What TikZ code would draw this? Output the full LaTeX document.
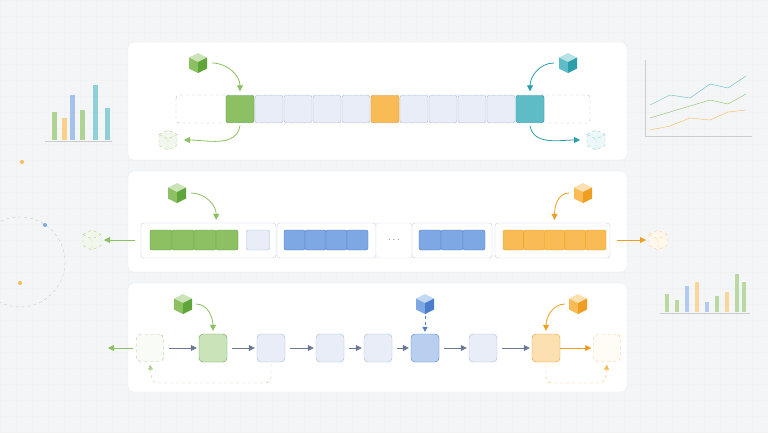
\documentclass[tikz,border=0pt]{standalone}
\usepackage{tikz}
\usetikzlibrary{positioning,calc,arrows.meta}
\definecolor{cgreen}{HTML}{8CC063}
\definecolor{cgreenD}{HTML}{5FA63A}
\definecolor{cteal}{HTML}{5DBCC6}
\definecolor{ctealD}{HTML}{2E9DAA}
\definecolor{corange}{HTML}{F8BB55}
\definecolor{corangeD}{HTML}{EE9F22}
\definecolor{cblue}{HTML}{7EA8E4}
\definecolor{cblueD}{HTML}{4A7DCB}
\definecolor{cpale}{HTML}{E8EDF8}
\definecolor{cpaleD}{HTML}{A9B8D6}
\definecolor{carrow}{HTML}{6A7A92}
\definecolor{cbg}{HTML}{F4F5F7}
\tikzset{
  panel/.style={fill=white,draw=black!8,rounded corners=6pt},
  cell/.style={draw=#1D,fill=#1,rounded corners=2pt,minimum width=28pt,minimum height=27pt,inner sep=0pt},
  pcell/.style={draw=cpaleD,fill=cpale,rounded corners=2pt,minimum width=28pt,minimum height=27pt,inner sep=0pt},
  scell/.style={draw=#1D,fill=#1,rounded corners=2pt,minimum width=20pt,minimum height=20pt,inner sep=0pt},
  group/.style={draw=cpaleD!70,fill=white,rounded corners=3pt},
  lnode/.style={draw=#1D,fill=#1!45!white,rounded corners=4pt,minimum size=28pt,inner sep=0pt},
  ghostnode/.style={draw=#1D!60,dashed,fill=#1!6!white,rounded corners=4pt,minimum size=27pt,inner sep=0pt},
  flow/.style={-{Triangle[length=6pt,width=6pt]},thick,color=#1},
  cube/.pic={
    \fill[#1!45!white] (0,-10)--(9,-5.5)--(0,-1)--(-9,-5.5)--cycle;
    \fill[#1] (-9,-5.5)--(0,-1)--(0,10)--(-9,5.5)--cycle;
    \fill[#1D] (9,-5.5)--(0,-1)--(0,10)--(9,5.5)--cycle;
  },
  ghost/.pic={
    \draw[#1!75,dashed,fill=#1!12!white] (-9,-5.5)--(0,-10)--(9,-5.5)--(9,5.5)--(0,10)--(-9,5.5)--cycle;
    \draw[#1!75,dashed] (-9,-5.5)--(0,-1)--(9,-5.5) (0,-1)--(0,10);
  }
}
\begin{document}
\begin{tikzpicture}[x=1pt,y=-1pt]
\fill[cbg] (0,0) rectangle (768,432);
\useasboundingbox (0,0) rectangle (768,432);
% background decoration
\foreach \x in {0,16,...,768} \draw[black!5] (\x,0) -- (\x,432);
\foreach \y in {0,16,...,432} \draw[black!5] (0,\y) -- (768,\y);
\foreach \x/\h/\c in {52/28/cgreen,62/22/corange,70/45/cblue,80/30/cgreen,93/55/cteal,105/32/cteal}
  \fill[\c!70] (\x,140) rectangle +(5,-\h);
\draw[black!20] (45,141) -- (112,141);
\draw[cteal,thin] (650,105) -- (670,95) -- (690,98) -- (710,84) -- (728,88) -- (746,76);
\draw[cgreen,thin] (650,118) -- (670,112) -- (690,106) -- (710,100) -- (728,104) -- (746,94);
\draw[corange,thin] (650,130) -- (670,126) -- (690,118) -- (710,120) -- (728,112) -- (746,110);
\draw[black!20] (645,60) -- (645,136) -- (752,136);
\foreach \x/\h/\c in {665/18/cgreen,675/12/cgreen,685/26/cblue,695/30/corange,705/10/cblue,715/16/cgreen,725/20/corange,735/38/cgreen,742/30/cgreen}
  \fill[\c!60] (\x,312) rectangle +(4,-\h);
\draw[black!20] (660,313) -- (750,313);
\draw[black!20,dashed] (20,262) circle (45);
\fill[cblue] (45,225) circle (2);
\fill[corange] (22,162) circle (2);
\fill[corange] (20,283) circle (2);

% panel 1: array with two ends
\draw[panel] (128,42) rectangle (627,160);
\draw[cpaleD,dashed,rounded corners=3pt] (176,95) rectangle (590,123);
\foreach \i in {1,...,11}
  \node[pcell] (c\i) at (240+\i*29-29,109) {};
\node[cell=cgreen] at (c1) {};
\node[cell=corange] at (c6) {};
\node[cell=cteal] at (c11) {};
\path (198,63) pic {cube=cgreen} coordinate (ga);
\path (568,63) pic {cube=cteal} coordinate (ta);
\path (168,140) pic {ghost=cgreen} coordinate (gb);
\path (596,140) pic {ghost=cteal} coordinate (tb);
\draw[flow=cgreen] ([xshift=14pt]ga) to[out=0,in=90] ([yshift=4pt]c1.north);
\draw[flow=cgreen] ([yshift=-3pt]c1.south) to[out=-100,in=0] ([xshift=16pt]gb);
\draw[flow=ctealD] ([xshift=-14pt]ta) to[out=180,in=90] ([yshift=4pt]c11.north);
\draw[flow=ctealD] ([yshift=-3pt]c11.south) to[out=-80,in=180] ([xshift=-16pt]tb);

% panel 2: deque of blocks
\draw[panel] (128,171) rectangle (627,272);
\draw[group] (141,223) rectangle (276,258);
\draw[group] (277,223) rectangle (376,258);
\draw[group,draw=cpaleD!40] (376,223) rectangle (412,258);
\draw[group] (412,223) rectangle (492,258);
\draw[group] (495,223) rectangle (610,258);
\foreach \i in {1,...,4}
  \node[scell=cgreen,minimum width=22pt] (g\i) at (150+\i*22-11,240) {};
\node[scell=cpale,draw=cpaleD,minimum width=23pt] (w1) at (258,240) {};
\foreach \i in {1,...,4}
  \node[scell=cblue,minimum width=21pt] (b\i) at (284+\i*21-10.5,240) {};
\node[text=carrow] (dots) at (394,240) {$\cdots$};
\foreach \i in {1,...,3}
  \node[scell=cblue,minimum width=22pt] (d\i) at (419+\i*22-11,240) {};
\foreach \i in {1,...,5}
  \node[scell=corange,minimum width=20.6pt] (o\i) at (503+\i*20.6-10.3,240) {};
\path (177,193) pic {cube=cgreen} coordinate (gc);
\path (583,193) pic {cube=corange} coordinate (oc);
\path (92,240) pic {ghost=cgreen} coordinate (gg);
\path (658,240) pic {ghost=corange} coordinate (og);
\draw[flow=cgreen] ([xshift=14pt]gc) to[out=0,in=90] ([yshift=10pt]g3.north east);
\draw[flow=corangeD] ([xshift=-14pt]oc) to[out=180,in=90] ([yshift=10pt]o3.north);
\draw[flow=cgreen] (135,240) -- ([xshift=12pt]gg);
\draw[flow=corangeD] (617,240) -- ([xshift=-12pt]og);

% panel 3: linked list
\draw[panel] (128,283) rectangle (627,392);
\node[ghostnode=cgreen] (n0) at (150,348) {};
\node[lnode=cgreen] (n1) at (213,348) {};
\node[lnode=cpale,draw=cpaleD,fill=cpale] (n2) at (271,348) {};
\node[lnode=cpale,draw=cpaleD,fill=cpale] (n3) at (330,348) {};
\node[lnode=cpale,draw=cpaleD,fill=cpale] (n4) at (378,348) {};
\node[lnode=cblue,fill=cblue!55!white] (n5) at (425,348) {};
\node[lnode=cpale,draw=cpaleD,fill=cpale] (n6) at (483,348) {};
\node[lnode=corange] (n7) at (546,348) {};
\node[ghostnode=corange] (n8) at (607,348) {};
\coordinate (lend) at (108,348);
\foreach \a/\b in {n0/n1,n1/n2,n2/n3,n3/n4,n4/n5,n5/n6,n6/n7}
  \draw[flow=carrow] ([xshift=5pt]\a.east) -- ([xshift=-2pt]\b.west);
\draw[flow=corangeD] (n7) -- ([xshift=-2pt]n8.west);
\draw[flow=cgreen] ([xshift=-3pt]n0.west) -- (lend);
\path (183,304) pic {cube=cgreen} coordinate (lg);
\path (425,304) pic {cube=cblue} coordinate (lb);
\path (578,304) pic {cube=corange} coordinate (lo);
\draw[flow=cgreen] ([xshift=13pt]lg) to[out=0,in=90] ([yshift=3pt]n1.north);
\draw[flow=cblueD,dashed,-{Triangle[length=5pt,width=5pt]}] ([yshift=-12pt]lb) -- ([yshift=2pt]n5.north);
\draw[flow=corangeD] ([xshift=-13pt]lo) to[out=180,in=90] ([yshift=3pt]n7.north);
\draw[flow=cgreen!70,dashed,thin,rounded corners=6pt,-{Triangle[length=5pt,width=5pt]}] ([yshift=-2pt]n2.south) |- (152,383) -- ([yshift=-3pt]n0.south);
\draw[flow=corange,dashed,thin,rounded corners=6pt,-{Triangle[length=5pt,width=5pt]}] ([yshift=-2pt]n7.south) |- (605,383) -- ([yshift=-3pt]n8.south);
\end{tikzpicture}
\end{document}
